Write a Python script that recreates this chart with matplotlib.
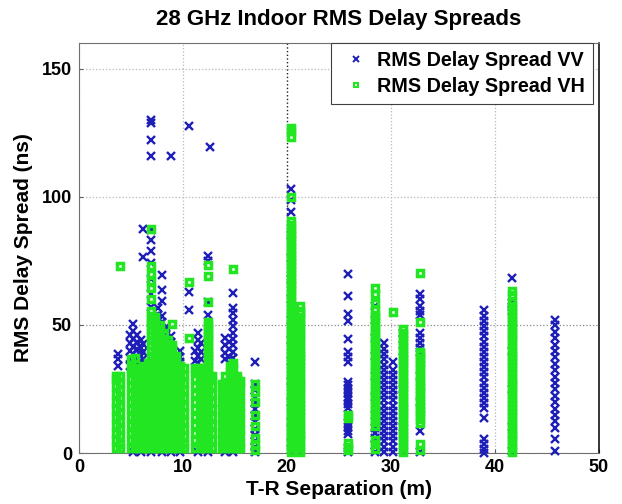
import matplotlib
matplotlib.use('Agg')
import matplotlib.pyplot as plt

plt.rcParams['font.family'] = ['Liberation Sans', 'DejaVu Sans']

title = '28 GHz Indoor RMS Delay Spreads'
xlabel = 'T-R Separation (m)'
ylabel = 'RMS Delay Spread (ns)'
label_vv = 'RMS Delay Spread VV'
label_vh = 'RMS Delay Spread VH'
xticks = [0, 10, 20, 30, 40, 50]
yticks = [0, 50, 100, 150]

# ---- VH (green squares): T-R separation of each measurement column, and delay spreads (ns) read at it
vh_cols_x = [3.6, 3.95, 5.0, 5.4, 5.8, 6.2, 6.6, 6.95, 7.35, 7.75, 8.15, 8.55, 8.95,
             9.35, 9.75, 10.15, 10.56, 11.2, 11.6, 12.0, 12.45, 12.8, 13.75, 14.1,
             14.5, 14.85, 15.2, 15.5, 16.9, 20.4, 21.3, 25.9, 28.45, 30.2, 31.2,
             32.85, 41.7]
vh_cols_y = [
    [2, 5, 8, 11, 14, 17, 20, 23, 26, 29, 30],
    [2, 3.5, 6.5, 9.5, 12.5, 15.5, 18.5, 21.5, 24.5, 27.5, 30, 73.1],
    [2, 5, 8, 11, 14, 17, 20, 23, 26, 29, 32, 33, 36.8],
    [2, 3.5, 6.5, 9.5, 12.5, 15.5, 18.5, 21.5, 24.5, 27.5, 30.5, 33, 37.2],
    [2, 5, 8, 11, 14, 17, 20, 23, 26, 29, 32, 33],
    [2, 3.5, 6.5, 9.5, 12.5, 15.5, 18.5, 21.5, 24.5, 27.5, 30.5, 33, 34],
    [2, 5, 8, 11, 14, 17, 20, 23, 26, 29, 32, 35],
    [2, 3.5, 6.5, 9.5, 12.5, 15.5, 18.5, 21.5, 24.5, 27.5, 30.5, 33, 34, 36, 38, 40,
     42, 44, 46, 48, 50, 52, 53.5, 55.6, 60, 64.5, 67, 70, 73, 87.3],
    [2, 5, 8, 11, 14, 17, 20, 23, 26, 29, 32, 34, 36, 38, 40, 42, 44, 46, 48, 50, 52, 53],
    [2, 3.5, 6.5, 9.5, 12.5, 15.5, 18.5, 21.5, 24.5, 27.5, 30.5, 33.5, 36.5, 39.5,
     42.5, 45.5, 48.5, 50],
    [2, 5, 8, 11, 14, 17, 20, 23, 26, 29, 32, 35, 38, 41, 44, 47],
    [2, 3.5, 6.5, 9.5, 12.5, 15.5, 18.5, 21.5, 24.5, 27.5, 30.5, 33.5, 36.5, 39.5,
     42.5, 44],
    [2, 5, 8, 11, 14, 17, 20, 23, 26, 29, 32, 35, 38, 41, 42, 50.3],
    [2, 3.5, 6.5, 9.5, 12.5, 15.5, 18.5, 21.5, 24.5, 27.5, 30.5, 33.5, 36.5, 38],
    [2, 5, 8, 11, 14, 17, 20, 23, 26, 29, 32, 34],
    [2, 3.5, 6.5, 9.5, 12.5, 15.5, 18.5, 21.5, 24.5, 27.5, 30.5, 33],
    [45, 66.7],
    [2, 5, 8, 11, 14, 17, 20, 23, 26, 29, 32, 33],
    [2, 3.5, 6.5, 9.5, 12.5, 15.5, 18.5, 21.5, 24.5, 27.5, 30.5, 33],
    [2, 5, 8, 11, 14, 17, 20, 23, 26, 29, 32, 33],
    [2, 3.5, 6.5, 9.5, 12.5, 15.5, 18.5, 21.5, 24.5, 27.5, 30.5, 32, 33.5, 35, 36.5,
     38, 39.5, 41, 42.5, 44, 45.5, 47, 48.5, 50, 51, 59, 69, 73.5],
    [2, 5, 8, 11, 14, 17, 20, 23, 26, 29, 30],
    [2, 5, 8, 11, 14, 17, 20, 23, 26, 27],
    [2, 3.5, 6.5, 9.5, 12.5, 15.5, 18.5, 21.5, 24.5, 27.5, 30],
    [2, 5, 8, 11, 14, 17, 20, 23, 26, 29, 32, 34],
    [2, 3.5, 6.5, 9.5, 12.5, 15.5, 18.5, 21.5, 24.5, 27.5, 30.5, 33, 35, 72],
    [2, 5, 8, 11, 14, 17, 20, 23, 26, 29, 30],
    [2, 3.5, 6.5, 9.5, 12.5, 15.5, 18.5, 21.5, 24.5, 27.5, 28],
    [1, 3, 6, 10.5, 15, 20, 24, 27],
    [0.5, 2, 3.5, 5, 6.5, 8, 9.5, 11, 12.5, 14, 15.5, 17, 18.5, 20, 21.5, 23, 24.5, 26,
     27.5, 29, 30.5, 32, 33.5, 35, 36.5, 38, 39.5, 41, 42.5, 44, 45.5, 47, 48.5, 50,
     51.5, 53, 54.5, 56, 57.5, 59, 60.5, 62, 63.5, 65, 66.5, 68, 69.5, 71, 72.5, 74,
     75.5, 77, 78.5, 80, 81.5, 83, 84.5, 86, 87.5, 89, 90.5, 99.9, 123.5, 125.5, 127],
    [0.5, 2, 3.5, 5, 6.5, 8, 9.5, 11, 12.5, 14, 15.5, 17, 18.5, 20, 21.5, 23, 24.5, 26,
     27.5, 29, 30.5, 32, 33.5, 35, 36.5, 38, 39.5, 41, 42.5, 44, 45.5, 47, 48.5, 50,
     51.5, 53, 54.5, 55.6, 57.4],
    [1, 2.5, 4, 13.5, 15],
    [1.5, 3.5, 5, 10.5, 12, 13.5, 15, 16.5, 18, 19.5, 21, 22.5, 24, 25.5, 27, 28.5, 30,
     31.5, 33, 34.5, 36, 37.5, 39, 40.5, 42, 43.5, 45, 46.5, 48, 49.5, 51, 52.5, 54,
     56, 58.5, 62, 64.5],
    [55],
    [0.5, 2, 3.5, 5, 6.5, 8, 9.5, 11, 12.5, 14, 15.5, 17, 18.5, 20, 21.5, 23, 24.5, 26,
     27.5, 29, 30.5, 32, 33.5, 35, 36.5, 38, 39.5, 41, 42.5, 44, 45.5, 47, 48.5],
    [1, 3.6, 11.7, 13.2, 14.7, 16.2, 17.7, 19.2, 20.7, 22.2, 23.7, 25.2, 26.7, 28.2,
     29.7, 31.2, 32.7, 34.2, 35.7, 37.2, 38.7, 39.4, 51, 70.3],
    [0.5, 2, 3.5, 5, 6.5, 8, 9.5, 11, 12.5, 14, 15.5, 17, 18.5, 20, 21.5, 23, 24.5, 26,
     27.5, 29, 30.5, 32, 33.5, 35, 36.5, 38, 39.5, 41, 42.5, 44, 45.5, 47, 48.5, 50,
     51.5, 53, 54.5, 56, 57.5, 59, 61.5, 63.3],
]

# ---- VV (blue crosses)
vv_cols_x = [3.8, 4.9, 5.2, 5.6, 6.0, 6.2, 6.9, 7.6, 8.0, 8.4, 8.86, 9.7, 10.56, 11.2,
             11.45, 11.75, 12.45, 12.6, 14.1, 14.4, 14.8, 16.9, 20.4, 21.3, 25.9, 28.45,
             29.35, 30.25, 31.2, 32.85, 39.0, 41.7, 45.8]
vv_cols_y = [
    [34, 36.5, 38.7],
    [34, 37, 40, 43, 46],
    [0.2, 35.5, 38.5, 41.5, 44.5, 47.5, 50.3],
    [34.5, 37.5, 40.5, 43.5, 46],
    [0.2, 35, 38, 41, 44],
    [36.5, 39.5, 42.5, 76.4, 87.6],
    [0.2, 57, 62, 68, 74, 78.8, 83.1, 87, 116, 122, 128.8, 130.1],
    [54, 56.5],
    [0.2, 51, 53.5, 59.4, 63.8, 69.6],
    [46, 49],
    [0.2, 43.5, 45.5, 116],
    [0.2, 35.5, 37.5, 40],
    [55.9, 62.8, 127.5],
    [36, 40],
    [0.2, 35, 38, 41, 44, 47],
    [36.5, 39.5, 43],
    [0.2, 54, 59, 75, 77],
    [119.4],
    [0.2, 36.5, 39, 42, 45],
    [37.5, 40.5, 43.5],
    [0.2, 37, 39.5, 42, 44.5, 47, 49.5, 52, 54.5, 56.5, 62.5],
    [0.5, 2.5, 4.5, 7, 9.5, 12, 14.5, 17, 19.5, 22, 24.5, 27, 35.5],
    [4, 12, 20, 28, 36, 44, 52, 60, 68, 76, 85, 94, 98.6, 103],
    [2, 10, 20, 29, 32, 35, 38, 41, 44, 47, 50],
    [0.5, 2, 7.3, 8.5, 10, 11.7, 17.5, 19, 20.5, 22, 23.5, 25, 26.5, 27.8, 35.5, 37.5,
     39.4, 44.3, 51.7, 54.2, 61.3, 70],
    [0.5, 3, 5.8, 7.7, 9.6, 15, 22, 30, 38, 45, 52, 57.5],
    [0.5, 2.5, 4.5, 6.5, 8.5, 10.5, 12.5, 14.5, 16.5, 18.5, 20.5, 22.5, 24.5, 26.5,
     28.5, 30.5, 32.5, 34.5, 36.5, 38.5, 40.5, 43],
    [0.5, 2.5, 4.5, 6.5, 8.5, 10.5, 12.5, 14.5, 16.5, 18.5, 20.5, 22.5, 24.5, 26.5,
     28.5, 30.5, 32.5, 35.5],
    [10, 25, 40, 44.5, 46.7],
    [0.5, 8.5, 20, 30, 39.4, 41, 43, 45, 47, 53.7, 55.5, 57.5, 60, 62],
    [0, 1.5, 3.5, 5.4, 13.6, 17.5, 19.5, 21.5, 23.5, 25.5, 27.5, 29.5, 31.5, 33.5,
     35.5, 37.5, 39.5, 41.5, 43.5, 45.5, 47.5, 49.5, 51.5, 53.5, 56],
    [0.8, 10, 25, 40, 55.6, 57, 58.7, 68.3],
    [0.8, 5.4, 9.8, 12.3, 14.8, 17.3, 19.8, 22.3, 24.8, 27.3, 29.8, 32.3, 34.8, 37.3,
     39.8, 42.3, 44.8, 47.3, 49.8, 52],
]

VV_COLOR = '#1e1eb8'
VH_COLOR = '#22e622'


def flatten(cols_x, cols_y):
    xs, ys = [], []
    for x, col in zip(cols_x, cols_y):
        for y in col:
            xs.append(x)
            ys.append(y)
    return xs, ys


vv_x, vv_y = flatten(vv_cols_x, vv_cols_y)
vh_x, vh_y = flatten(vh_cols_x, vh_cols_y)

fig = plt.figure(figsize=(6.22, 5.04), dpi=100)
ax = fig.add_axes([79 / 622, 51 / 504, 519.5 / 622, 410 / 504])

ax.plot(vv_x, vv_y, linestyle='none', marker='x', markersize=5.4,
        markeredgewidth=1.7, color=VV_COLOR, label=label_vv, clip_on=False, zorder=3)
ax.plot(vh_x, vh_y, linestyle='none', marker='s', markersize=4.7,
        markeredgewidth=2.5, markerfacecolor='none', markeredgecolor=VH_COLOR,
        label=label_vh, clip_on=False, zorder=4)

ax.set_xlim(0, 50)
ax.set_ylim(0, 160)
ax.set_xticks(xticks)
ax.set_yticks(yticks)
ax.tick_params(axis='both', direction='in', length=3, color='#606060',
               labelsize=13)
ax.tick_params(axis='x', pad=4)
ax.tick_params(axis='y', pad=5)
for lab in ax.get_xticklabels() + ax.get_yticklabels():
    lab.set_fontweight('bold')

ax.set_axisbelow(True)
ax.grid(True, linestyle=':', color='#b8b8b8', linewidth=0.9)
xgl = ax.xaxis.get_gridlines()
xgl[2].set_color('#202020')
xgl[2].set_linewidth(1.0)
ygl = ax.yaxis.get_gridlines()
ygl[1].set_color('#888888')

for side in ['left', 'top', 'bottom']:
    ax.spines[side].set_color('#707070')
    ax.spines[side].set_linewidth(0.8)
ax.spines['right'].set_color('#000000')
ax.spines['right'].set_linewidth(1.1)

ax.set_xlabel(xlabel, fontsize=15, fontweight='bold')
ax.xaxis.set_label_coords(0.5, -(480 - 453) / 410)
ax.set_ylabel(ylabel, fontsize=15, fontweight='bold')
ax.yaxis.set_label_coords(-(79 - 33) / 519.5, 0.5)

fig.text((79 + 598.5) / 2 / 622, 1 - 20 / 504, title, fontsize=16, fontweight='bold',
         ha='center', va='center')

leg = ax.legend(loc='upper right', bbox_to_anchor=(0.989, 1.0), borderaxespad=0,
                prop={'weight': 'bold', 'size': 14.2}, fancybox=False, framealpha=1,
                edgecolor='#404040', handlelength=1.7, handletextpad=0.2,
                borderpad=0.42, labelspacing=0.33, markerscale=0.75)
leg.get_frame().set_linewidth(0.8)
leg.set_zorder(10)
handles = leg.legend_handles
handles[0].set_markeredgewidth(1.4)
handles[1].set_markeredgewidth(1.5)

fig.savefig('out.png', dpi=100)
